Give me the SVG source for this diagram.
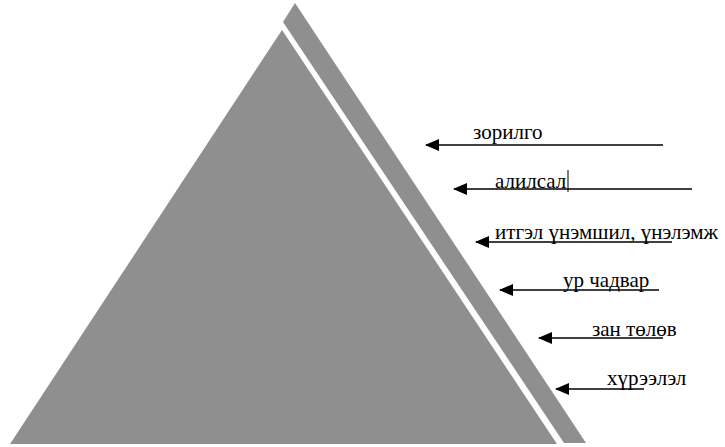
<svg xmlns="http://www.w3.org/2000/svg" width="725" height="447" viewBox="0 0 725 447">
<style>
.shape{fill:#8f8f8f;stroke:none}
.conn{stroke:#000;stroke-width:1.6;fill:none}
.lbl{font-family:"Liberation Serif","Times New Roman",serif;font-size:21px;fill:#000}
</style>
<defs>
<marker id="ah" viewBox="0 0 14 12" refX="13" refY="6" markerWidth="14" markerHeight="12" markerUnits="userSpaceOnUse" orient="auto">
<path d="M0,0 L14,6 L0,12 Z" fill="#000"/>
</marker>
</defs>
<rect width="725" height="447" fill="#fff"/>
<g id="pyramid">
<polygon class="shape" points="282,30 557,444 10,444"/>
</g>
<g id="side-band">
<polygon class="shape" points="295,3 586,443 564,443 283,22"/>
</g>
<g id="connectors">
<line class="conn" x1="663" y1="145" x2="426" y2="145" marker-end="url(#ah)"/>
<line class="conn" x1="692" y1="189" x2="454" y2="189" marker-end="url(#ah)"/>
<line class="conn" x1="672" y1="242" x2="476" y2="242" marker-end="url(#ah)"/>
<line class="conn" x1="659" y1="290" x2="500" y2="290" marker-end="url(#ah)"/>
<line class="conn" x1="663" y1="338" x2="539" y2="338" marker-end="url(#ah)"/>
<line class="conn" x1="644" y1="389" x2="556" y2="389" marker-end="url(#ah)"/>
</g>
<g id="label-zorilgo"><text class="lbl" x="473" y="139">зорилго</text></g>
<g id="label-alilsal"><text class="lbl" x="495" y="188">алилсал</text>
<line x1="568" y1="170" x2="568" y2="192" stroke="#000" stroke-width="1"/></g>
<g id="label-itgel"><text class="lbl" x="495" y="239">итгэл үнэмшил, үнэлэмж</text></g>
<g id="label-ur"><text class="lbl" x="563" y="287">ур чадвар</text></g>
<g id="label-zan"><text class="lbl" x="592" y="336">зан төлөв</text></g>
<g id="label-khureelel"><text class="lbl" x="607" y="385">хүрээлэл</text></g>
</svg>
